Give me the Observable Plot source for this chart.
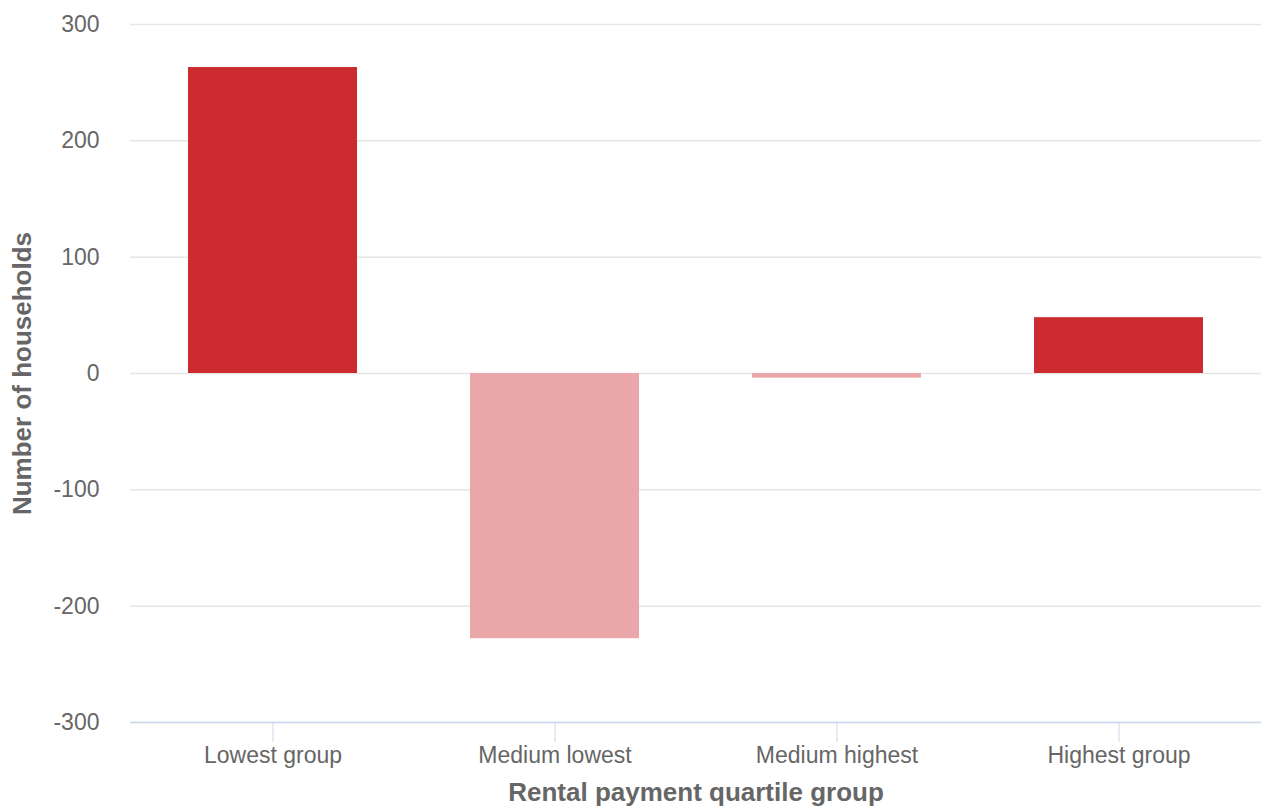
<!DOCTYPE html>
<html>
<head>
<meta charset="utf-8">
<script src="https://cdn.jsdelivr.net/npm/d3@7"></script>
<script src="https://cdn.jsdelivr.net/npm/@observablehq/plot@0.6"></script>
<style>
  html, body { margin: 0; padding: 0; background: #fff; }
  #chart svg { display: block; }
</style>
</head>
<body>
<div id="chart"></div>
<script>
const categories = ["Lowest group", "Medium lowest", "Medium highest", "Highest group"];
const values = [263, -228, -4, 48];
const yTicks = [-300, -200, -100, 0, 100, 200, 300];
const xTitle = "Rental payment quartile group";
const yTitle = "Number of households";

const data = categories.map((c, i) => ({group: c, value: values[i]}));

const dark = "#cc2c30";
const light = "#eaa6a8";
const textColor = "#666666";

const chart = Plot.plot({
  width: 1261,
  height: 808,
  marginTop: 24,
  marginBottom: 86,
  marginLeft: 130,
  marginRight: 0,
  style: {fontFamily: "'Liberation Sans', Arial, sans-serif", fontSize: "23px", color: textColor, background: "#fff"},
  x: {domain: categories, paddingInner: 0.4, paddingOuter: 0.2, label: null},
  y: {domain: [-300, 300], label: null},
  marks: [
    Plot.gridY(yTicks, {stroke: "#e6e6e6", strokeOpacity: 1, strokeWidth: 1.5}),
    Plot.barY(data, {x: "group", y: "value", fill: d => d.value >= 0 ? dark : light}),
    Plot.ruleY([-300], {stroke: "#ccd6eb", strokeWidth: 1.5}),
    Plot.axisX({tickSize: 20, tickPadding: 4, stroke: "#ccd6eb", fill: textColor, fontSize: 23, label: null}),
    Plot.axisY(yTicks, {tickSize: 0, tickPadding: 31, fill: textColor, fontSize: 23, label: null, tickFormat: d => String(d)}),
    Plot.text([yTitle], {frameAnchor: "left", dx: -108, rotate: -90, fill: textColor, fontSize: 26, fontWeight: "bold", textAnchor: "middle", lineAnchor: "middle"}),
    Plot.text([xTitle], {frameAnchor: "bottom", dy: 70, fill: textColor, fontSize: 26, fontWeight: "bold", textAnchor: "middle", lineAnchor: "middle"})
  ]
});
document.getElementById("chart").appendChild(chart);
</script>
</body>
</html>
